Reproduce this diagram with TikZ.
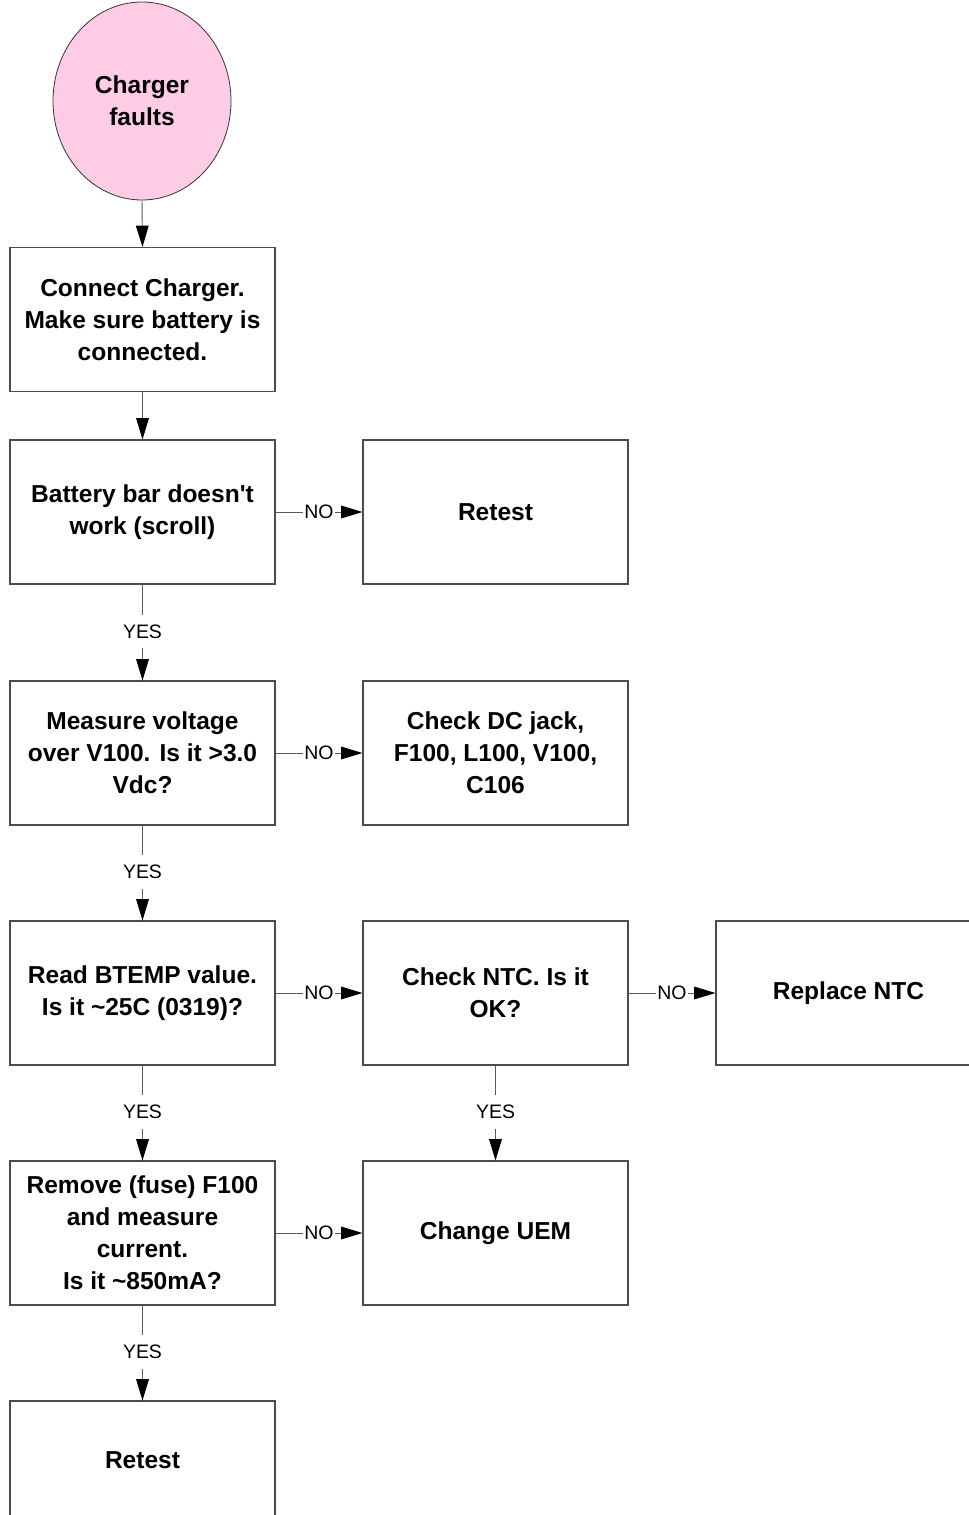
\documentclass[tikz,border=0pt]{standalone}
\usepackage{fontspec}
\setmainfont{Liberation Sans}[Ligatures=TeXOff,BoldFont={Liberation Sans Bold}]
\usetikzlibrary{arrows.meta,shapes.geometric,calc}
\begin{document}
\begin{tikzpicture}[x=0.75pt,y=-0.75pt,
  box/.style={draw=black!70,line width=0.8pt,rectangle,minimum width=198.75pt,minimum height=108pt,align=center,font=\bfseries\fontsize{18.4}{24}\selectfont,inner sep=0pt},
  start/.style={draw=black!80,line width=0.6pt,ellipse,fill={rgb,255:red,255;green,204;blue,230},minimum width=133.5pt,minimum height=148.5pt,align=center,font=\bfseries\fontsize{18.4}{24}\selectfont,inner sep=0pt},
  conn/.style={draw=black!65,line width=0.7pt,-{Triangle[length=16pt,width=9.5pt,color=black,fill=black]}},
  lbl/.style={fill=white,draw=none,font=\fontsize{14.6}{16}\selectfont,inner xsep=1pt,inner ysep=0pt,minimum height=25pt}]
\useasboundingbox (0,0) rectangle (968,1515);
\node[start] (s) at (142,101) {Charger\\faults};
\node[box] (b1) at (142.5,319.5) {Connect Charger.\\Make sure battery is\\connected.};
\node[box] (b2) at (142.5,512) {Battery bar doesn't\\work (scroll)};
\node[box] (b3) at (142.5,753) {Measure voltage\\over V100. Is it >3.0\\Vdc?};
\node[box] (b4) at (142.5,993) {Read BTEMP value.\\Is it \textasciitilde25C (0319)?};
\node[box] (b5) at (142.5,1233) {Remove (fuse) F100\\and measure\\current.\\Is it \textasciitilde850mA?};
\node[box,minimum height=88.5pt] (b6) at (142.5,1460) {Retest};
\node[box] (r2) at (495.5,512) {Retest};
\node[box] (r3) at (495.5,753) {Check DC jack,\\F100, L100, V100,\\C106};
\node[box] (r4) at (495.5,993) {Check NTC. Is it\\OK?};
\node[box] (r5) at (495.5,1233) {Change UEM};
\node[box] (q4) at (848.5,993) {Replace NTC};
\draw[conn] (s.south) -- (b1.north);
\draw[conn] (b1) -- (b2);
\draw[conn] (b2) -- (b3);
\draw[conn] (b3) -- (b4);
\draw[conn] (b4) -- (b5);
\draw[conn] (b5) -- (b6);
\draw[conn] (r4) -- (r5);
\draw[conn] (b2) -- (r2);
\draw[conn] (b3) -- (r3);
\draw[conn] (b4) -- (r4);
\draw[conn] (b5) -- (r5);
\draw[conn] (r4) -- (q4);
\node[lbl] (y1) at ($(b2.south)!0.49!(b3.north)$) {YES};
\node[lbl] (y2) at ($(b3.south)!0.49!(b4.north)$) {YES};
\node[lbl] (y3) at ($(b4.south)!0.49!(b5.north)$) {YES};
\node[lbl] (y4) at ($(b5.south)!0.49!(b6.north)$) {YES};
\node[lbl] (y5) at ($(r4.south)!0.49!(r5.north)$) {YES};
\node[lbl] (n1) at ($(b2.east)!0.5!(r2.west)$) {NO};
\node[lbl] (n2) at ($(b3.east)!0.5!(r3.west)$) {NO};
\node[lbl] (n3) at ($(b4.east)!0.5!(r4.west)$) {NO};
\node[lbl] (n4) at ($(b5.east)!0.5!(r5.west)$) {NO};
\node[lbl] (n5) at ($(r4.east)!0.5!(q4.west)$) {NO};
\end{tikzpicture}
\end{document}
